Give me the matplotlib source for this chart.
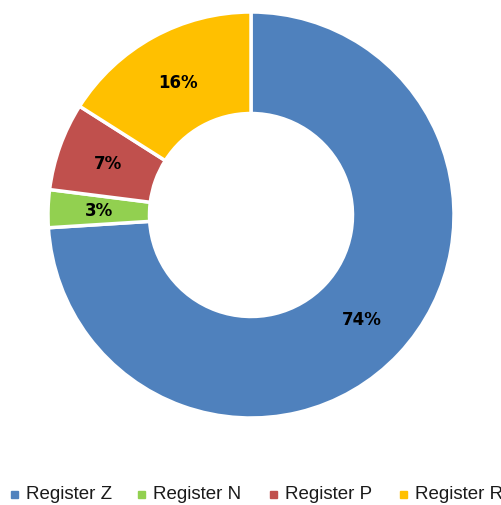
import matplotlib
matplotlib.use("Agg")
import matplotlib.pyplot as plt
from matplotlib.patches import Rectangle

categories = ["Register Z", "Register N", "Register P", "Register R"]
values = [74, 3, 7, 16]
colors = ["#4F81BD", "#92D050", "#C0504D", "#FFC000"]

W, H = 501, 506
cx, cy, R = 251, 216, 203
fig = plt.figure(figsize=(W/100, H/100), dpi=100)
ax = fig.add_axes([0, 0, 1, 1])

wedges, texts, autotexts = ax.pie(
    values, colors=colors, startangle=90, counterclock=False, radius=1,
    autopct=lambda p: f"{p:.0f}%", pctdistance=0.75,
    wedgeprops=dict(width=0.5, edgecolor="white", linewidth=2.5),
    textprops=dict(fontsize=12, fontweight="bold", color="black", family="DejaVu Sans"),
)
ax.set_aspect("auto")
ax.set_xlim((0 - cx) / R, (W - cx) / R)
ax.set_ylim((cy - H) / R, cy / R)
ax.axis("off")

# legend
xs = [14, 141, 273, 403]
ly = 495
for x, lab, c in zip(xs, categories, colors):
    fig.patches.append(Rectangle((x / W - 3.5 / W, 1 - ly / H - 3.5 / H), 7 / W, 7 / H,
                                 transform=fig.transFigure, color=c))
    fig.text((x + 12) / W, 1 - ly / H, lab, fontsize=13.5, va="center", ha="left",
             color="#1a1a1a", family="Liberation Sans")

fig.savefig("out.png", dpi=100)
